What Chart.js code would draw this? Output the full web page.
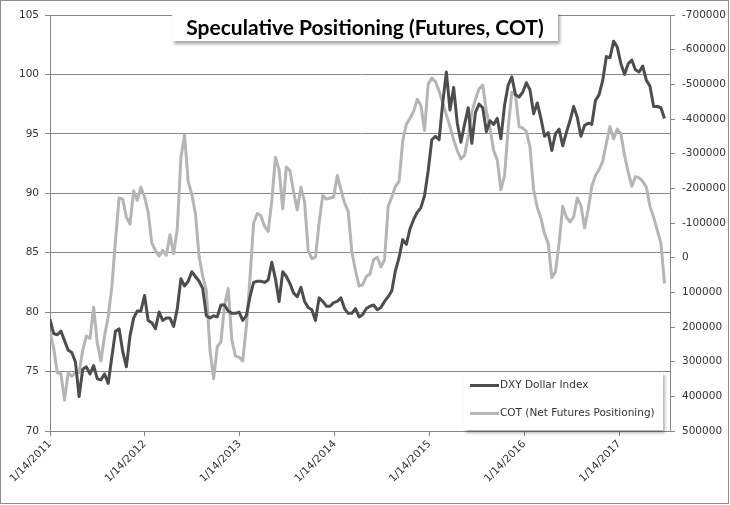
<!DOCTYPE html>
<html lang="en">
<head>
<meta charset="UTF-8">
<title>Speculative Positioning (Futures, COT)</title>
<script src="https://cdn.jsdelivr.net/npm/chart.js"></script>
<style>
    body { margin: 0; background: #fff; }
    #wrap { position: relative; width: 730px; height: 505px; }
    #frame { position: absolute; left: 0; top: 0; width: 729px; height: 504px; border: 1px solid #8e8e8e; box-sizing: border-box; pointer-events: none; }
    #title { position: absolute; left: 172px; top: 12px; width: 386px; height: 29px; background: #fff;
             box-shadow: 2px 3px 3px rgba(0,0,0,0.35); font: bold 21px Lato, sans-serif; color: #000;
             text-align: center; line-height: 29px; white-space: nowrap; }
    #legend { position: absolute; left: 464px; top: 372px; width: 199px; height: 58px; background: #fff;
              box-shadow: 2px 3px 3px rgba(0,0,0,0.3); font: 10.5px "DejaVu Sans", sans-serif; color: #333; }
    .item { position: absolute; left: 6px; height: 14px; line-height: 14px; white-space: nowrap; }
    .swatch { display: inline-block; width: 29px; height: 3px; vertical-align: middle; margin-right: 1px; }
</style>
</head>
<body>
<div id="wrap">
    <canvas id="chart" width="730" height="505"></canvas>
    <div id="title">Speculative Positioning (Futures, COT)</div>
    <div id="legend">
        <div class="item" style="top:5px"><span class="swatch" style="background:#4d4d4d"></span>DXY Dollar Index</div>
        <div class="item" style="top:33px"><span class="swatch" style="background:#b5b5b5"></span>COT (Net Futures Positioning)</div>
    </div>
    <div id="frame"></div>
</div>
<script>
    // weekly-ish readings, one value every 14 days starting 1/14/2011
    const startYear = 2011;
    const stepDays = 14;
    const tickLabels = ['1/14/2011', '1/14/2012', '1/14/2013', '1/14/2014', '1/14/2015', '1/14/2016', '1/14/2017'];

    const dxy = [
        79.4, 78.2, 78.1, 78.4, 77.6, 76.8, 76.6, 75.8, 72.9, 75.2,
        75.4, 74.8, 75.5, 74.4, 74.3, 74.8, 74.0, 76.2, 78.4, 78.6,
        76.7, 75.4, 78.0, 79.5, 80.1, 80.1, 81.4, 79.3, 79.1, 78.6,
        80.0, 79.3, 79.5, 79.5, 78.8, 80.3, 82.8, 82.2, 82.6, 83.4,
        83.0, 82.6, 82.0, 79.7, 79.5, 79.7, 79.6, 80.6, 80.6, 80.1,
        79.9, 79.9, 80.0, 79.3, 79.7, 81.3, 82.5, 82.6, 82.6, 82.5,
        82.7, 84.2, 82.8, 80.9, 83.4, 83.0, 82.4, 81.6, 81.3, 82.1,
        80.9, 80.4, 80.2, 79.3, 81.2, 80.9, 80.5, 80.5, 80.8, 80.9,
        81.2, 80.3, 79.9, 79.9, 80.3, 79.6, 79.8, 80.3, 80.5, 80.6,
        80.2, 80.4, 80.9, 81.3, 81.8, 83.5, 84.6, 86.1, 85.7, 87.0,
        87.8, 88.4, 88.8, 89.8, 91.9, 94.5, 94.8, 94.5, 97.6, 100.2,
        97.0, 98.9, 95.9, 94.3, 95.8, 97.2, 94.2, 96.8, 97.5, 97.2,
        95.2, 96.1, 95.8, 96.3, 94.6, 97.4, 99.1, 99.8, 98.3, 98.1,
        98.5, 99.3, 98.7, 96.7, 97.6, 96.3, 94.8, 95.1, 93.6, 95.0,
        95.4, 94.0, 95.1, 96.1, 97.3, 96.4, 94.8, 95.7, 95.9, 95.8,
        97.8, 98.3, 99.5, 101.5, 101.4, 102.8, 102.3, 100.9, 100.0, 100.9,
        101.2, 100.4, 100.2, 100.7, 99.5, 99.0, 97.3, 97.3, 97.2, 96.3
    ];

    const cot = [
        215000, 260000, 332000, 335000, 411000, 332000, 342000, 332000, 332000, 267000,
        226000, 233000, 143000, 246000, 298000, 226000, 171000, 85000, -49000, -172000,
        -169000, -117000, -97000, -193000, -165000, -203000, -175000, -131000, -42000, -21000,
        -4000, -21000, -7000, -66000, -11000, -83000, -289000, -354000, -220000, -182000,
        -127000, -4000, 54000, 95000, 267000, 349000, 257000, 243000, 137000, 89000,
        236000, 284000, 287000, 298000, 198000, 58000, -100000, -127000, -121000, -90000,
        -76000, -165000, -289000, -254000, -141000, -261000, -251000, -189000, -138000, -203000,
        -162000, -21000, 3000, -1000, -100000, -179000, -169000, -172000, -175000, -237000,
        -196000, -158000, -134000, -18000, 37000, 82000, 78000, 54000, 47000, 6000,
        -1000, 27000, 6000, -148000, -175000, -206000, -220000, -337000, -385000, -402000,
        -422000, -457000, -439000, -367000, -501000, -518000, -508000, -481000, -446000, -412000,
        -378000, -340000, -309000, -285000, -295000, -350000, -419000, -457000, -487000, -498000,
        -422000, -374000, -309000, -282000, -196000, -237000, -374000, -477000, -470000, -378000,
        -374000, -364000, -319000, -196000, -145000, -114000, -69000, -42000, 58000, 41000,
        -42000, -148000, -117000, -103000, -117000, -172000, -151000, -86000, -138000, -206000,
        -237000, -254000, -278000, -330000, -378000, -343000, -371000, -357000, -295000, -247000,
        -206000, -234000, -230000, -220000, -203000, -148000, -117000, -79000, -42000, 75000
    ];

    const DAY = 86400000;
    const t0 = Date.UTC(startYear, 0, 14);
    const tickDays = tickLabels.map((s, i) => (Date.UTC(startYear + i, 0, 14) - t0) / DAY);

    const gridColor = '#878787';
    const tickFont = { family: 'DejaVu Sans', size: 10.5 };

    new Chart(document.getElementById('chart'), {
        type: 'line',
        data: {
            datasets: [{
                label: 'DXY Dollar Index',
                data: dxy.map((v, i) => ({ x: i * stepDays, y: v })),
                yAxisID: 'y',
                borderColor: '#4d4d4d',
                borderWidth: 3,
                pointRadius: 0,
                tension: 0,
                borderJoinStyle: 'round'
            }, {
                label: 'COT (Net Futures Positioning)',
                data: cot.map((v, i) => ({ x: i * stepDays, y: v })),
                yAxisID: 'y1',
                borderColor: '#b5b5b5',
                borderWidth: 3,
                pointRadius: 0,
                tension: 0,
                borderJoinStyle: 'round'
            }]
        },
        options: {
            responsive: false,
            animation: false,
            layout: { padding: { top: 15, left: 0, right: 0, bottom: 0 } },
            plugins: { legend: { display: false }, tooltip: { enabled: false } },
            scales: {
                x: {
                    type: 'linear',
                    min: 0,
                    max: 2387,
                    afterBuildTicks: axis => { axis.ticks = tickDays.map(v => ({ value: v })); },
                    afterFit: axis => { axis.height = 74; },
                    grid: { drawOnChartArea: false, drawTicks: true, tickLength: 5, color: gridColor },
                    border: { display: true, color: gridColor },
                    ticks: {
                        autoSkip: false,
                        minRotation: 45,
                        maxRotation: 45,
                        padding: 2,
                        color: '#333',
                        font: tickFont,
                        callback: (v, i) => tickLabels[i]
                    }
                },
                y: {
                    position: 'left',
                    min: 70,
                    max: 105,
                    afterFit: axis => { axis.width = 50; },
                    grid: { color: gridColor, tickLength: 5 },
                    border: { display: true, color: gridColor },
                    ticks: { stepSize: 5, padding: 6, color: '#333', font: tickFont }
                },
                y1: {
                    position: 'right',
                    min: -700000,
                    max: 500000,
                    reverse: true,
                    afterFit: axis => { axis.width = 60; },
                    grid: { drawOnChartArea: false, color: gridColor, tickLength: 5 },
                    border: { display: true, color: gridColor },
                    ticks: { stepSize: 100000, padding: 7, color: '#333', font: tickFont, callback: v => String(v) }
                }
            }
        }
    });
</script>
</body>
</html>
